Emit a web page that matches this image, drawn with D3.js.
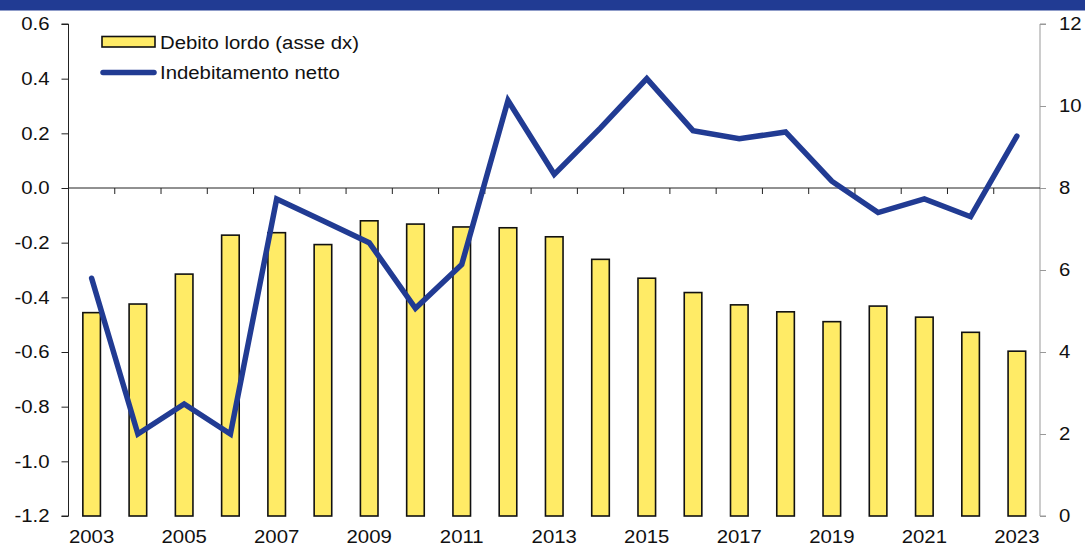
<!DOCTYPE html>
<html>
<head>
<meta charset="utf-8">
<script src="https://cdn.jsdelivr.net/npm/d3@7"></script>
<style>
  html, body { margin: 0; padding: 0; background: #fff; }
  svg { display: block; font-family: "Liberation Sans", Arial, sans-serif; }
</style>
</head>
<body>
<svg id="chart" width="1085" height="549"></svg>
<script>
const years = [2003,2004,2005,2006,2007,2008,2009,2010,2011,2012,2013,2014,2015,2016,2017,2018,2019,2020,2021,2022,2023];
const debitoLordo = [4.96,5.17,5.90,6.85,6.91,6.62,7.20,7.12,7.05,7.03,6.81,6.26,5.80,5.45,5.15,4.98,4.74,5.12,4.85,4.48,4.02];
const indebitamentoNetto = [-0.33,-0.90,-0.79,-0.90,-0.04,-0.12,-0.20,-0.44,-0.28,0.32,0.05,0.22,0.40,0.21,0.18,0.205,0.025,-0.09,-0.04,-0.105,0.19];
const leftTicks = [0.6,0.4,0.2,0.0,-0.2,-0.4,-0.6,-0.8,-1.0,-1.2];
const rightTicks = [0,2,4,6,8,10,12];
const xLabelYears = [2003,2005,2007,2009,2011,2013,2015,2017,2019,2021,2023];
const legendLabels = ["Debito lordo (asse dx)", "Indebitamento netto"];

const svg = d3.select("#chart");
const L = 68.5, R = 1040, T = 24, B = 516;
const blue = "#213B93";
const FONT = '"Liberation Sans", Arial, sans-serif';

// header band
svg.append("rect").attr("x",0).attr("y",0).attr("width",1085).attr("height",10.5).attr("fill",blue);

const x = d3.scaleBand().domain(years).range([L, R]).paddingInner(0).paddingOuter(0);
const yL = d3.scaleLinear().domain([-1.2, 0.6]).range([B, T]);
const yR = d3.scaleLinear().domain([0, 12]).range([B, T]);

// bars
const bw = x.bandwidth() * 0.38;
svg.append("g").selectAll("rect").data(years).join("rect")
  .attr("x", d => x(d) + x.bandwidth()/2 - bw/2)
  .attr("y", (d,i) => yR(debitoLordo[i]))
  .attr("width", bw)
  .attr("height", (d,i) => yR(0) - yR(debitoLordo[i]))
  .attr("fill", "#FFEB66")
  .attr("stroke", "#111")
  .attr("stroke-width", 1.6);

// left axis
const gL = svg.append("g").attr("transform", `translate(${L},0)`)
  .call(d3.axisLeft(yL).tickValues(leftTicks).tickFormat(d3.format(".1f")).tickSize(7).tickPadding(12));
gL.select(".domain").attr("stroke","#222").attr("d", `M-7,${T}H0V${B}H-7`);
gL.selectAll(".tick line").attr("stroke","#222");
gL.selectAll(".tick text").attr("font-size", 18).attr("fill","#111")
  .attr("font-family", FONT)
  .text(d => d3.format(".1f")(d).replace("−","-"));

// right axis
const gR = svg.append("g").attr("transform", `translate(${R},0)`)
  .call(d3.axisRight(yR).tickValues(rightTicks).tickSize(6).tickPadding(13));
gR.select(".domain").attr("stroke","#999").attr("d", `M6,${T}H0V${B}H6`);
gR.selectAll(".tick line").attr("stroke","#999");
gR.selectAll(".tick text").attr("font-size", 18).attr("fill","#111")
  .attr("font-family", FONT);

// x axis at zero
const y0 = yL(0);
svg.append("line").attr("x1", L).attr("x2", R).attr("y1", y0).attr("y2", y0).attr("stroke","#222").attr("stroke-width",1);
svg.append("g").selectAll("line").data(years.slice(1)).join("line")
  .attr("x1", d => x(d)).attr("x2", d => x(d))
  .attr("y1", y0).attr("y2", y0 + 6)
  .attr("stroke","#222");

// x labels
svg.append("g").selectAll("text").data(xLabelYears).join("text")
  .attr("x", d => x(d) + x.bandwidth()/2)
  .attr("y", 543)
  .attr("text-anchor","middle")
  .attr("font-size", 18).attr("fill","#111")
  .text(d => d);

// line
const line = d3.line()
  .x((d,i) => x(years[i]) + x.bandwidth()/2)
  .y(d => yL(d));
svg.append("path").datum(indebitamentoNetto)
  .attr("d", line)
  .attr("fill","none")
  .attr("stroke", blue)
  .attr("stroke-width", 5.5)
  .attr("stroke-linejoin","miter")
  .attr("stroke-linecap","round");

// legend
const lg = svg.append("g");
lg.append("rect").attr("x",102).attr("y",36.5).attr("width",53).attr("height",10.5)
  .attr("fill","#FFEB66").attr("stroke","#111").attr("stroke-width",1.6);
lg.append("text").attr("x",160).attr("y",48.5).attr("font-size",18).attr("fill","#111").text(legendLabels[0]);
lg.append("line").attr("x1",103).attr("x2",154).attr("y1",72.5).attr("y2",72.5)
  .attr("stroke",blue).attr("stroke-width",5.5).attr("stroke-linecap","round");
lg.append("text").attr("x",160).attr("y",79).attr("font-size",18).attr("fill","#111").text(legendLabels[1]);

// widen text horizontally to match the reference's wider typeface
svg.selectAll("text").each(function() {
  const w = this.getComputedTextLength();
  if (w > 0) {
    this.setAttribute("textLength", (w * 1.13).toFixed(1));
    this.setAttribute("lengthAdjust", "spacingAndGlyphs");
  }
});
</script>
</body>
</html>
